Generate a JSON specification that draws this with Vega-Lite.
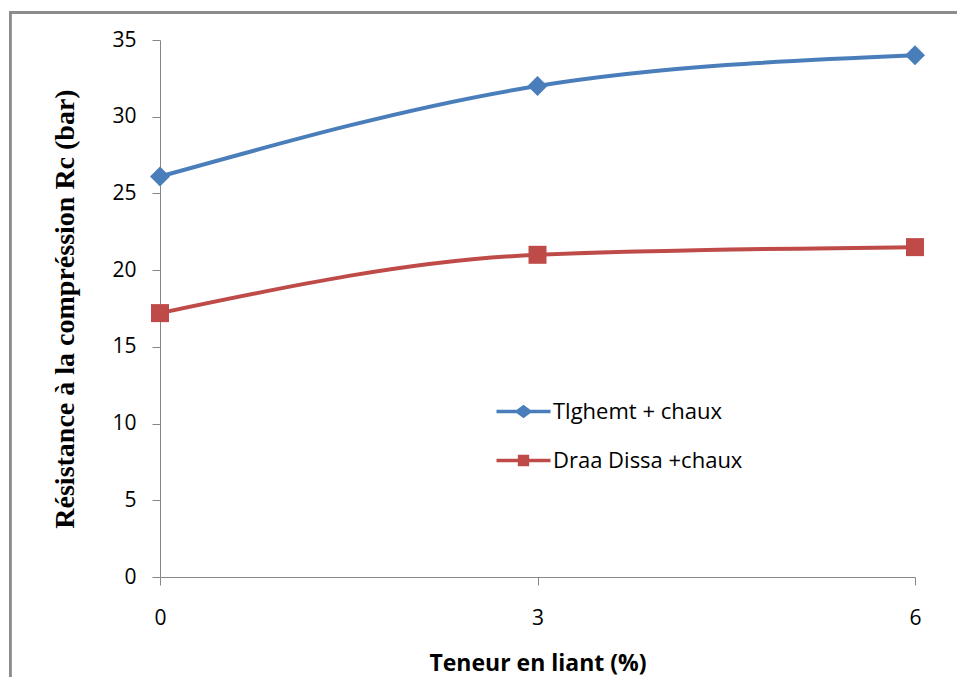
{
  "$schema": "https://vega.github.io/schema/vega-lite/v6.json",
  "width": 755,
  "height": 537,
  "autosize": {"type": "none"},
  "padding": {"left": 160, "top": 40, "right": 42, "bottom": 100},
  "background": "white",
  "config": {
    "view": {"stroke": null},
    "axis": {
      "grid": false,
      "domainColor": "#868686",
      "tickColor": "#868686",
      "labelColor": "#000000",
      "titleColor": "#000000"
    }
  },
  "data": {
    "values": [
      {"t": 0, "v": 26.1, "s": "Tlghemt + chaux"},
      {"t": 3, "v": 32.0, "s": "Tlghemt + chaux"},
      {"t": 6, "v": 34.0, "s": "Tlghemt + chaux"},
      {"t": 0, "v": 17.2, "s": "Draa Dissa +chaux"},
      {"t": 3, "v": 21.0, "s": "Draa Dissa +chaux"},
      {"t": 6, "v": 21.5, "s": "Draa Dissa +chaux"}
    ]
  },
  "layer": [
    {
      "mark": {"type": "rect", "fill": null, "stroke": "#8c8c8c", "strokeWidth": 2},
      "encoding": {
        "x": {"datum": -1.19, "type": "quantitative"},
        "x2": {"datum": 6.6},
        "y": {"datum": 36.8, "type": "quantitative"},
        "y2": {"datum": -8}
      }
    },
    {
      "mark": {"type": "point", "filled": true, "opacity": 0, "size": 729},
      "encoding": {
        "x": {
          "field": "t", "type": "quantitative",
          "scale": {"domain": [0, 6], "nice": false, "zero": false},
          "axis": {
            "values": [0, 3, 6],
            "format": "d",
            "labelFlush": false,
            "labelFont": "Open Sans",
            "labelFontSize": 21,
            "tickSize": 8,
            "labelPadding": 22,
            "title": "Teneur en liant (%)",
            "titleFont": "Open Sans",
            "titleFontWeight": "bold",
            "titleFontSize": 23,
            "titlePadding": 24
          }
        },
        "y": {
          "field": "v", "type": "quantitative",
          "scale": {"domain": [0, 35], "nice": false},
          "axis": {
            "values": [0, 5, 10, 15, 20, 25, 30, 35],
            "format": "d",
            "labelFlush": false,
            "labelFont": "Open Sans",
            "labelFontSize": 21,
            "tickSize": 8,
            "labelPadding": 16,
            "title": "Résistance à la compréssion Rc  (bar)",
            "titleFont": "Liberation Serif",
            "titleFontWeight": "bold",
            "titleFontSize": 28,
            "titlePadding": 32
          }
        },
        "color": {
          "field": "s", "type": "nominal",
          "scale": {"domain": ["Tlghemt + chaux", "Draa Dissa +chaux"], "range": ["#4a7ebb", "#be4b48"]},
          "legend": {
            "title": null,
            "orient": "none",
            "legendX": 350,
            "legendY": 358,
            "padding": 0,
            "symbolSize": 729,
            "symbolOpacity": 1,
            "symbolStrokeWidth": 0,
            "labelFont": "Open Sans",
            "labelFontSize": 22,
            "labelLimit": 500,
            "labelColor": "#000000",
            "labelOffset": 16,
            "rowPadding": 24
          }
        },
        "shape": {
          "field": "s", "type": "nominal",
          "scale": {
            "domain": ["Tlghemt + chaux", "Draa Dissa +chaux"],
            "range": [
              "M-2,-0.13H-0.5L0,-0.5L0.5,-0.13H2V0.13H0.5L0,0.5L-0.5,0.13H-2Z",
              "M-2,-0.13H-0.42V-0.42H0.42V-0.13H2V0.13H0.42V0.42H-0.42V0.13H-2Z"
            ]
          }
        }
      }
    },
    {
      "mark": {"type": "line", "interpolate": "monotone", "strokeWidth": 4},
      "encoding": {
        "x": {"field": "t", "type": "quantitative"},
        "y": {"field": "v", "type": "quantitative"},
        "color": {"field": "s", "type": "nominal"}
      }
    },
    {
      "transform": [{"filter": "datum.s === 'Tlghemt + chaux'"}],
      "mark": {"type": "point", "filled": true, "opacity": 1, "shape": "diamond", "size": 400},
      "encoding": {
        "x": {"field": "t", "type": "quantitative"},
        "y": {"field": "v", "type": "quantitative"},
        "color": {"field": "s", "type": "nominal"}
      }
    },
    {
      "transform": [{"filter": "datum.s === 'Draa Dissa +chaux'"}],
      "mark": {"type": "point", "filled": true, "opacity": 1, "shape": "square", "size": 324},
      "encoding": {
        "x": {"field": "t", "type": "quantitative"},
        "y": {"field": "v", "type": "quantitative"},
        "color": {"field": "s", "type": "nominal"}
      }
    }
  ]
}
